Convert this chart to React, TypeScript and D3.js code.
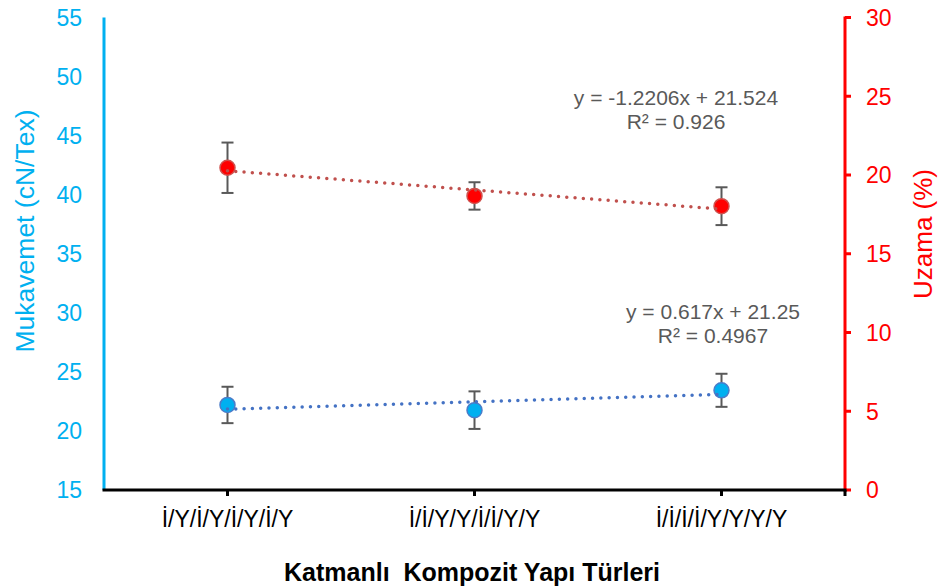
import React from 'react'
import * as d3 from 'd3'

// values
const categories = ['İ/Y/İ/Y/İ/Y/İ/Y', 'İ/İ/Y/Y/İ/İ/Y/Y', 'İ/İ/İ/İ/Y/Y/Y/Y']
const strength = [22.2, 21.76, 23.44] // Mukavemet (cN/Tex)
const strengthErr = [1.54, 1.59, 1.4]
const elongation = [20.46, 18.67, 18.02] // Uzama (%)
const elongationErr = [1.6, 0.87, 1.2]
const leftTicks = [15, 20, 25, 30, 35, 40, 45, 50, 55]
const rightTicks = [0, 5, 10, 15, 20, 25, 30]
const strengthEq = ['y = 0.617x + 21.25', 'R² = 0.4967']
const elongationEq = ['y = -1.2206x + 21.524', 'R² = 0.926']

const W = 940
const H = 588
const M = { left: 104, right: 845, top: 17.5, bottom: 490 }
const FONT = 'Liberation Sans, Arial, sans-serif'
const CYAN = '#00B0F0'
const RED = '#FF0000'

// least squares fit over x = 1..n (like Excel's linear trendline)
function fit(values: number[]) {
  const xs = values.map((_, i) => i + 1)
  const mx = d3.mean(xs)!
  const my = d3.mean(values)!
  const sxy = d3.sum(xs, (x, i) => (x - mx) * (values[i] - my))
  const sxx = d3.sum(xs, (x) => (x - mx) ** 2)
  const slope = sxy / sxx
  return { slope, intercept: my - slope * mx }
}

export default function App() {
  const x = d3.scaleBand<string>().domain(categories).range([M.left, M.right]).padding(0)
  const cx = (c: string) => x(c)! + x.bandwidth() / 2
  const yL = d3.scaleLinear().domain([15, 55]).range([M.bottom, M.top])
  const yR = d3.scaleLinear().domain([0, 30]).range([M.bottom, M.top])

  const series = [
    { values: strength, err: strengthErr, y: yL, fill: CYAN, stroke: '#4A7CC9', trend: '#4472C4' },
    { values: elongation, err: elongationErr, y: yR, fill: RED, stroke: '#D0504D', trend: '#C0504D' },
  ]

  const line = d3.line<[number, number]>()

  return (
    <svg
      width={W}
      height={H}
      style={{ position: 'absolute', left: 0, top: 0, background: '#fff' }}
      fontFamily={FONT}
    >
      {/* left axis */}
      <line x1={M.left} x2={M.left} y1={M.top} y2={M.bottom} stroke={CYAN} strokeWidth={3} />
      {leftTicks.map((t) => (
        <text key={t} x={82} y={yL(t)} dy="0.36em" textAnchor="end" fontSize={23} fill={CYAN}>
          {t}
        </text>
      ))}
      <text
        transform={`translate(24,231) rotate(-90)`}
        textAnchor="middle"
        dy="0.36em"
        fontSize={26.5}
        fill={CYAN}
      >
        Mukavemet (cN/Tex)
      </text>

      {/* right axis */}
      <line x1={M.right} x2={M.right} y1={M.top - 1} y2={M.bottom + 1.5} stroke={RED} strokeWidth={3} />
      {rightTicks.map((t) => (
        <g key={t}>
          <line x1={M.right} x2={M.right + 6} y1={yR(t)} y2={yR(t)} stroke={RED} strokeWidth={3} />
          <text x={866} y={yR(t)} dy="0.36em" fontSize={23} fill={RED}>
            {t}
          </text>
        </g>
      ))}
      <text
        transform={`translate(923,234) rotate(-90)`}
        textAnchor="middle"
        dy="0.36em"
        fontSize={26}
        fill={RED}
      >
        Uzama (%)
      </text>

      {/* x axis */}
      <line x1={M.left - 1.5} x2={M.right + 1.5} y1={M.bottom} y2={M.bottom} stroke="#000" strokeWidth={3} />
      {[...categories.map(cx), M.right].map((px, i) => (
        <line key={i} x1={px} x2={px} y1={M.bottom} y2={M.bottom + 6} stroke="#000" strokeWidth={3} />
      ))}
      {categories.map((c) => (
        <text key={c} x={cx(c)} y={527} textAnchor="middle" fontSize={23} fill="#000">
          {c}
        </text>
      ))}
      <text
        x={472}
        y={581}
        textAnchor="middle"
        fontSize={25}
        fontWeight="bold"
        fill="#000"
        style={{ whiteSpace: 'pre' }}
      >
        {'Katmanlı  Kompozit Yapı Türleri'}
      </text>

      {/* series */}
      {series.map((s, si) => {
        const { slope, intercept } = fit(s.values)
        const n = s.values.length
        const trendPts: [number, number][] = [
          [cx(categories[0]), s.y(slope * 1 + intercept)],
          [cx(categories[n - 1]), s.y(slope * n + intercept)],
        ]
        return (
          <g key={si}>
            {s.values.map((v, i) => {
              const px = cx(categories[i])
              const y0 = s.y(v - s.err[i])
              const y1 = s.y(v + s.err[i])
              return (
                <g key={i} stroke="#595959" strokeWidth={2}>
                  <line x1={px} x2={px} y1={y0} y2={y1} />
                  <line x1={px - 6} x2={px + 6} y1={y0} y2={y0} />
                  <line x1={px - 6} x2={px + 6} y1={y1} y2={y1} />
                </g>
              )
            })}
            {s.values.map((v, i) => (
              <circle
                key={i}
                cx={cx(categories[i])}
                cy={s.y(v)}
                r={7.5}
                fill={s.fill}
                stroke={s.stroke}
                strokeWidth={1.5}
              />
            ))}
            <path
              d={line(trendPts)!}
              fill="none"
              stroke={s.trend}
              strokeWidth={3.5}
              strokeDasharray="0 8.3"
              strokeLinecap="round"
            />
          </g>
        )
      })}

      {/* trendline equations */}
      {elongationEq.map((t, i) => (
        <text key={t} x={676} y={105 + i * 24} textAnchor="middle" fontSize={21} fill="#595959">
          {t}
        </text>
      ))}
      {strengthEq.map((t, i) => (
        <text key={t} x={713} y={319 + i * 24} textAnchor="middle" fontSize={21} fill="#595959">
          {t}
        </text>
      ))}
    </svg>
  )
}
